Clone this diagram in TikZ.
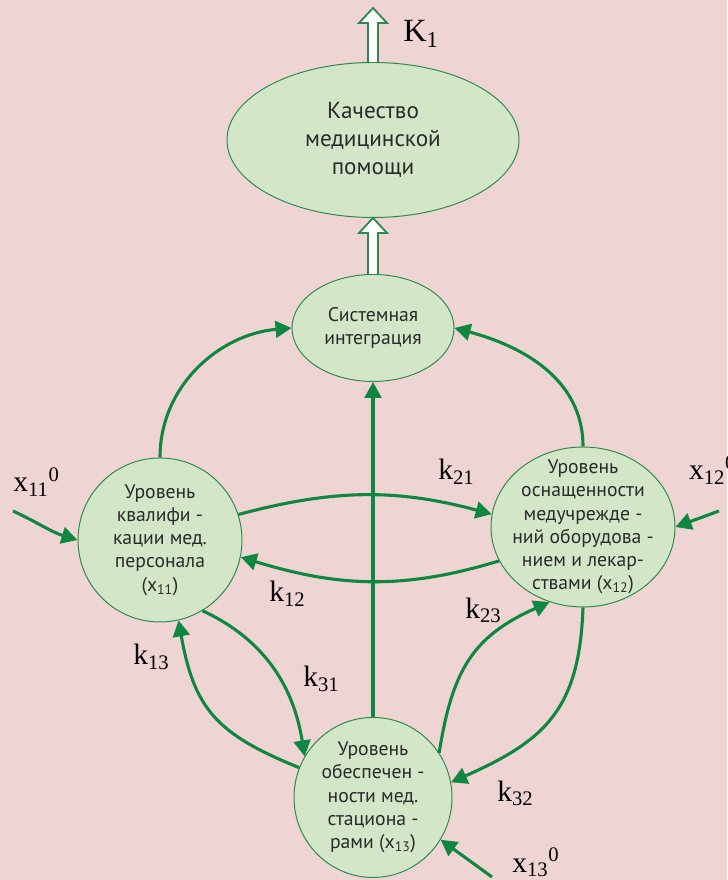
\documentclass[tikz,border=0pt]{standalone}
\usepackage{fontspec}
\setmainfont{Liberation Serif}
\newfontfamily\cellfont{PT Sans}
\usepackage{tikz}
\usetikzlibrary{arrows.meta, positioning, calc, shapes.geometric}
\definecolor{bgpink}{HTML}{EFD4D4}
\definecolor{cellfill}{HTML}{D3E7C8}
\definecolor{cellline}{HTML}{2C8A4C}
\definecolor{flowgreen}{HTML}{0F8740}
\definecolor{cellink}{HTML}{2A2A2A}
\tikzset{
  level/.style={
	ellipse, % every block is an ellipse
	draw=cellline, line width=0.7pt, % thin green rim
	fill=cellfill,
	inner sep=-0.4cm, % the minimum sizes decide the outline
	align=center, text=cellink,
	font=\cellfont\fontsize{14}{16.5}\selectfont,
  },
  flow/.style={
	>={Triangle[length=0.4cm, width=0.42cm]}, % filled heads
	->, % makes the edges directed
	draw=flowgreen, line width=2.2pt,
  },
  klabel/.style={anchor=base west, inner sep=0pt, font=\fontsize{21}{25}\selectfont},
  hollow/.style={draw=cellline, line width=1.3pt, fill=white, line join=miter},
}
\newcommand{\hollowarrow}[2]{%
  \filldraw[hollow] ($(#1)+(-0.125,0)$) -- ($(#2)+(-0.125,-0.375)$) -- ($(#2)+(-0.35,-0.375)$)
	-- (#2) -- ($(#2)+(0.35,-0.375)$) -- ($(#2)+(0.125,-0.375)$) -- ($(#1)+(0.125,0)$);}

\begin{document}
\begin{tikzpicture}
	\fill[bgpink] (0,0) rectangle (18.175,22);
	\useasboundingbox (0,0) rectangle (18.175,22);

	\node[level, minimum width=7.3cm, minimum height=3.875cm, font=\cellfont\fontsize{16.5}{20}\selectfont] (quality) at (9.325,18.5) {Качество\\медицинской\\помощи};
	\node[level, below=1.4cm of quality, minimum width=4.05cm, minimum height=2.675cm] (integ) {Системная\\интеграция};
	\node[level, minimum width=4.1cm, minimum height=4.1cm] (staff) at (4.0,8.5) {Уровень\\квалифи -\\кации мед.\\персонала\\(x\textsubscript{11})};
	\node[level, minimum width=4.6cm, minimum height=4.0cm] (equip) at (14.575,8.825) {Уровень\\оснащенности\\медучрежде -\\ний оборудова -\\нием и лекар-\\ствами (x\textsubscript{12})};
	\node[level, below=8.375cm of integ, minimum width=3.95cm, minimum height=4.0cm] (beds) {Уровень\\обеспечен -\\ности мед.\\стациона -\\рами (x\textsubscript{13})};

	\coordinate (outcome) at (9.325,21.8);
	\coordinate (in11) at (0.325,9.225);
	\coordinate (in12) at (17.975,9.225);
	\coordinate (in13) at (12.3,0.075);

	\hollowarrow{quality.north}{outcome}
	\hollowarrow{integ.north}{quality.south}

	\draw [flow] (staff.north) to[out=90, in=185] (integ.west);
	\draw [flow] (equip.north) to[out=90, in=-15] (integ.east);
	\draw [flow] (beds.north) -- (integ.south);

	\draw [flow] (staff.18) to[out=15, in=165] (equip.172);
	\draw [flow] (equip.202) to[out=197, in=343] (staff.348);
	\draw [flow] (beds.158) to[out=158, in=280, looseness=1.2] (staff.283);
	\draw [flow] (staff.301) to[out=-25, in=99] (beds.149);
	\draw [flow] (beds.34) to[out=81, in=204, looseness=1.15] (equip.246);
	\draw [flow] (equip.south) to[out=268, in=24, looseness=1.2] (beds.11);

	\draw [flow] (in11) to[out=-25, in=163] (staff.west);
	\draw [flow] (in12) -- (equip.east);
	\draw [flow] (in13) -- (beds.328);

	\node[klabel, font=\fontsize{23}{27}\selectfont] (k1) at (10.075,20.95) {K\textsubscript{1}};
	\node[klabel] (k21) at (10.95,10.0) {k\textsubscript{21}};
	\node[klabel] (k12) at (6.725,6.958) {k\textsubscript{12}};
	\node[klabel] (k23) at (11.625,6.54) {k\textsubscript{23}};
	\node[klabel] (k13) at (3.325,5.375) {k\textsubscript{13}};
	\node[klabel] (k31) at (7.575,4.83) {k\textsubscript{31}};
	\node[klabel] (k32) at (12.425,1.96) {k\textsubscript{32}};
	\node[klabel] (x11) at (0.325,9.7) {x\textsubscript{11}\textsuperscript{0}};
	\node[klabel] (x12) at (17.22,10.0) {x\textsubscript{12}\textsuperscript{0}};
	\node[klabel] (x13) at (12.8,0.2) {x\textsubscript{13}\textsuperscript{0}};
\end{tikzpicture}
\end{document}
